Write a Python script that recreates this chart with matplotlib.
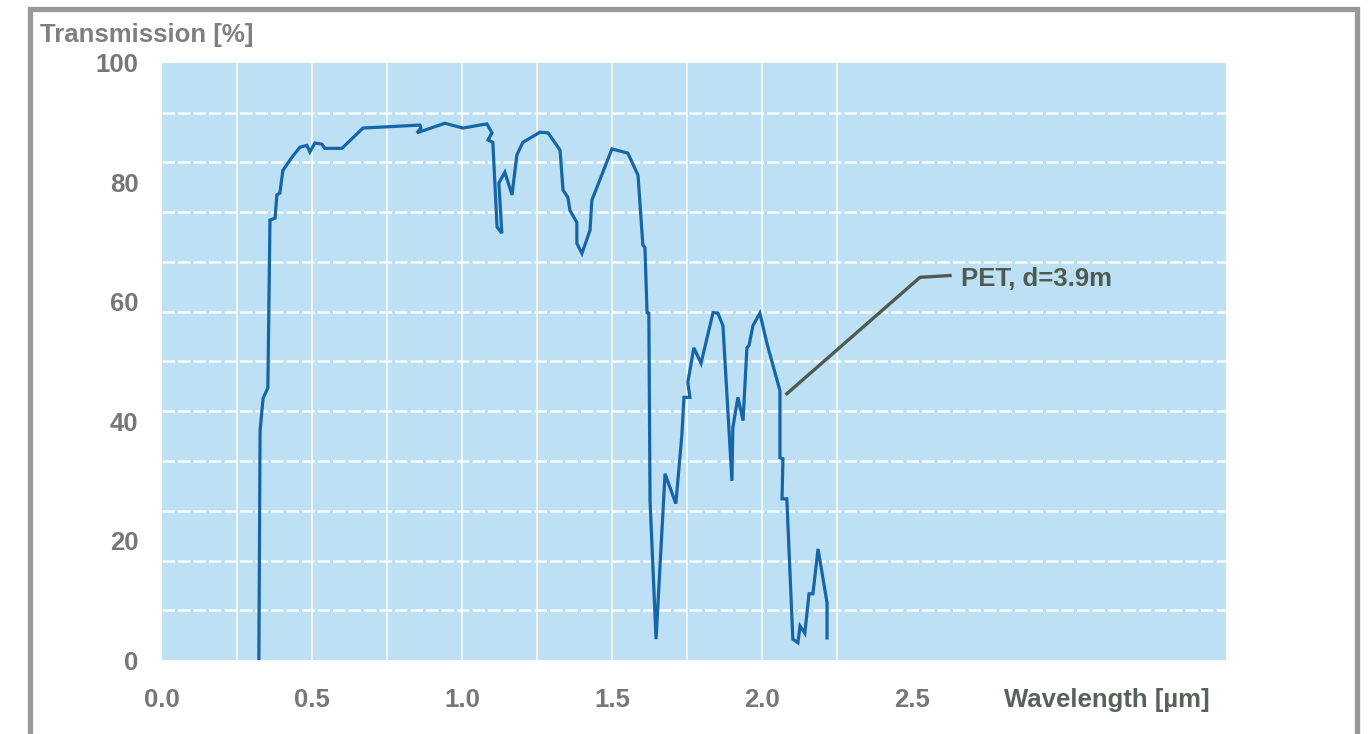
import matplotlib
matplotlib.use("Agg")
import matplotlib.pyplot as plt
from matplotlib.patches import Rectangle

plt.rcParams["font.family"] = ["Liberation Sans", "DejaVu Sans"]

# PET transmission spectrum, d = 3.9 m
wavelength_um = [
    0.323, 0.327, 0.337, 0.353, 0.360, 0.377, 0.383, 0.393, 0.403, 0.433,
    0.460, 0.483, 0.493, 0.510, 0.533, 0.543, 0.600, 0.670, 0.860, 0.863,
    0.850, 0.943, 1.003, 1.083, 1.100, 1.087, 1.103, 1.117, 1.133, 1.123,
    1.143, 1.167, 1.183, 1.203, 1.260, 1.287, 1.327, 1.337, 1.353, 1.360,
    1.383, 1.383, 1.400, 1.427, 1.433, 1.500, 1.553, 1.587, 1.603, 1.610,
    1.617, 1.623, 1.627, 1.647, 1.677, 1.713, 1.733, 1.740, 1.760, 1.753,
    1.773, 1.797, 1.837, 1.853, 1.870, 1.900, 1.903, 1.920, 1.937, 1.950,
    1.957, 1.970, 1.993, 2.017, 2.060, 2.060, 2.070, 2.067, 2.083, 2.103,
    2.120, 2.127, 2.143, 2.157, 2.170, 2.187, 2.217, 2.217,
]
transmission_pct = [
    0.0, 38.4, 43.8, 45.6, 73.7, 74.0, 77.9, 78.2, 82.0, 84.2,
    85.9, 86.2, 85.1, 86.6, 86.4, 85.7, 85.7, 89.1, 89.6, 89.1,
    88.3, 89.9, 89.1, 89.8, 88.3, 87.1, 86.7, 72.5, 71.5, 79.9,
    81.7, 77.9, 84.6, 86.7, 88.4, 88.3, 85.4, 78.7, 77.5, 75.3,
    73.3, 69.8, 68.1, 72.0, 77.0, 85.6, 84.9, 81.2, 69.5, 69.1,
    58.2, 58.1, 26.7, 3.5, 31.2, 26.2, 37.6, 44.0, 44.0, 46.5,
    52.3, 49.7, 58.2, 58.1, 56.0, 30.0, 38.9, 44.0, 40.1, 52.3,
    52.7, 56.0, 58.1, 53.0, 45.1, 33.9, 33.7, 27.0, 27.0, 3.5,
    2.9, 5.7, 4.5, 11.1, 11.1, 18.6, 9.6, 3.7,
]

x_ticks = [0.0, 0.5, 1.0, 1.5, 2.0, 2.5]
y_ticks = [0, 20, 40, 60, 80, 100]

label_text = "PET, d=3.9m"
label_point = (2.083, 44.6)
label_elbow = (2.527, 64.1)
label_end = (2.627, 64.4)

fig = plt.figure(figsize=(13.68, 7.34), dpi=100)
fig.patch.set_facecolor("white")
ax = fig.add_axes([0.1184, 0.1008, 0.7778, 0.8134])
ax.set_facecolor("#bde0f4")

# grid: thin solid verticals every 0.25 um, dashed horizontals in 12 steps
for gx in [0.25 * k for k in range(1, 10)]:
    ax.axvline(gx, color="white", linewidth=1.3, alpha=0.8, zorder=1)
for gy in [100 / 12 * k for k in range(1, 12)]:
    ax.axhline(gy, color="white", linewidth=1.8, alpha=0.9,
               linestyle=(0, (5, 1.2)), zorder=1)

ax.plot(wavelength_um, transmission_pct, color="#1565a9", linewidth=2.3,
        solid_joinstyle="miter", zorder=3)

ax.set_xlim(0, 3.547)
ax.set_ylim(0, 100)
ax.set_xticks(x_ticks)
ax.set_xticklabels([f"{v:.1f}" for v in x_ticks])
ax.set_yticks(y_ticks)
ax.set_yticklabels([str(v) for v in y_ticks])
ax.tick_params(length=0, labelsize=18.5, labelcolor="#777777")
ax.tick_params(axis="y", pad=17)
ax.tick_params(axis="x", pad=20)
for lab in ax.get_xticklabels() + ax.get_yticklabels():
    lab.set_fontweight("bold")
for s in ax.spines.values():
    s.set_visible(False)

# leader line and label for the curve
ax.plot([label_point[0], label_elbow[0], label_end[0]],
        [label_point[1], label_elbow[1], label_end[1]],
        color="#4f5b51", linewidth=2.4, zorder=4, clip_on=False)
ax.text(label_end[0] + 0.035, label_end[1] - 0.5, label_text,
        fontsize=18.5, fontweight="bold", color="#4f5b51",
        ha="left", va="center", zorder=4)

fig.text(40 / 1368, 1 - 35 / 734, "Transmission [%]", fontsize=18.5,
         fontweight="bold", color="#7f7f7f", ha="left", va="center")
fig.text(1210 / 1368, 1 - 700 / 734, "Wavelength [µm]", fontsize=18.5,
         fontweight="bold", color="#56625a", ha="right", va="center")

# outer gray frame, running off the bottom edge
fig.patches.append(Rectangle((29.5 / 1368, -0.2), 1327 / 1368, 1.2 - 8.5 / 734,
                             transform=fig.transFigure, fill=False,
                             edgecolor="#999999", linewidth=3.8))

fig.savefig("out.png", dpi=100)
